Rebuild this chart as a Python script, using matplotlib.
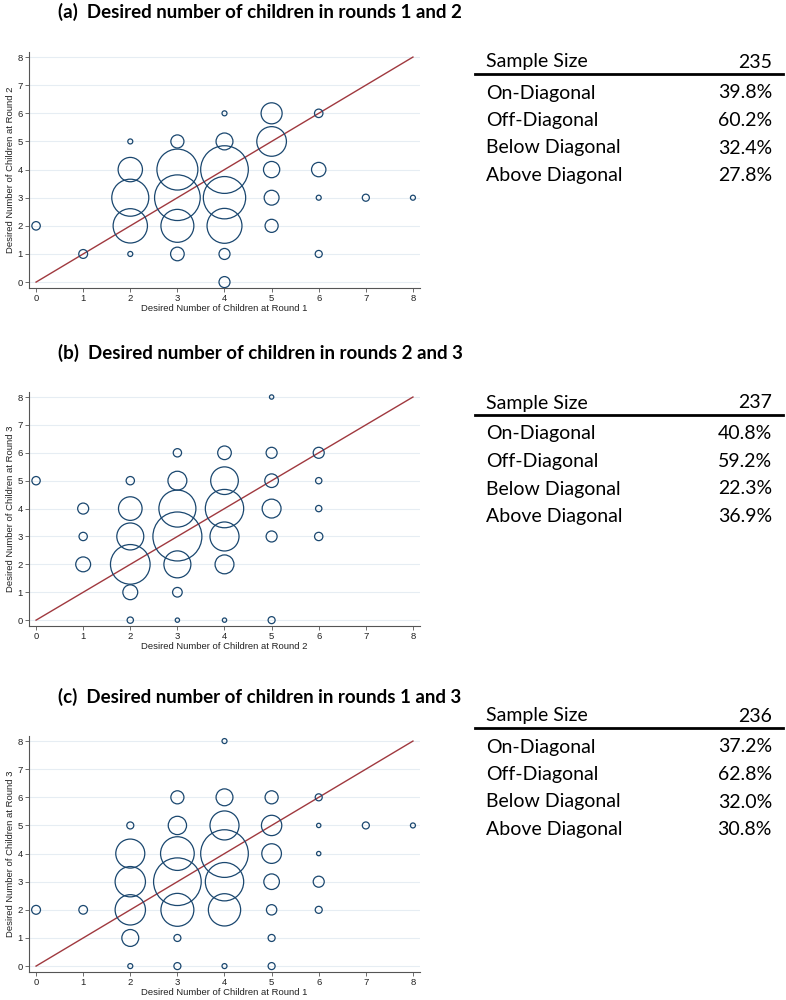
import matplotlib
matplotlib.use("Agg")
import matplotlib.pyplot as plt
from matplotlib.lines import Line2D

# ---------------- data ----------------
# Panel (a): round 1 (x) vs round 2 (y); bubble weights (area-proportional)
a_x = [0, 1, 2, 2, 2, 2, 2, 3, 3, 3, 3, 3, 4, 4, 4, 4, 4, 4, 4, 5, 5, 5, 5, 5, 6, 6, 6, 6, 7, 8]
a_y = [2, 1, 5, 4, 3, 2, 1, 5, 4, 3, 2, 1, 6, 5, 4, 3, 2, 1, 0, 6, 5, 4, 3, 2, 6, 4, 3, 1, 3, 3]
a_w = [1.0, 1.1, 0.35, 8.3, 19.2, 16.5, 0.35, 2.4, 23.5, 29.2, 15.2, 2.6, 0.35, 4.0, 31.8, 25.1,
       17.1, 1.7, 1.7, 6.2, 12.3, 3.7, 3.1, 2.4, 1.0, 2.9, 0.35, 0.7, 0.7, 0.35]

# Panel (b): round 2 (x) vs round 3 (y)
b_x = [0, 1, 1, 1, 2, 2, 2, 2, 2, 2, 3, 3, 3, 3, 3, 3, 3, 4, 4, 4, 4, 4, 4, 5, 5, 5, 5, 5, 5, 6, 6, 6, 6]
b_y = [5, 4, 3, 2, 5, 4, 3, 2, 1, 0, 6, 5, 4, 3, 2, 1, 0, 6, 5, 4, 3, 2, 0, 8, 6, 5, 4, 3, 0, 6, 5, 4, 3]
b_w = [0.97, 1.7, 0.97, 3.1, 0.97, 7.8, 10.2, 22.0, 3.1, 0.56, 0.97, 5.0, 19.2, 33.6, 10.2, 1.3, 0.26,
       2.6, 10.7, 20.6, 11.8, 5.0, 0.26, 0.26, 1.7, 2.6, 5.0, 1.7, 0.69, 1.7, 0.56, 0.56, 0.97]

# Panel (c): round 1 (x) vs round 3 (y)
c_x = [0, 1, 2, 2, 2, 2, 2, 2, 3, 3, 3, 3, 3, 3, 3, 4, 4, 4, 4, 4, 4, 4, 5, 5, 5, 5, 5, 5, 5,
       6, 6, 6, 6, 6, 7, 8]
c_y = [2, 2, 5, 4, 3, 2, 1, 0, 6, 5, 4, 3, 2, 1, 0, 8, 6, 5, 4, 3, 2, 0, 6, 5, 4, 3, 2, 1, 0,
       6, 5, 4, 3, 2, 5, 5]
c_w = [1.1, 1.05, 0.69, 11.8, 12.9, 12.9, 4.0, 0.35, 2.4, 4.7, 15.9, 31.8, 15.2, 0.69, 0.69,
       0.35, 4.0, 11.8, 31.8, 20.6, 14.6, 0.35, 2.4, 5.8, 5.4, 3.4, 1.5, 0.69, 0.69,
       0.69, 0.26, 0.26, 1.7, 0.69, 0.69, 0.35]

titles = ["(a)  Desired number of children in rounds 1 and 2",
          "(b)  Desired number of children in rounds 2 and 3",
          "(c)  Desired number of children in rounds 1 and 3"]
xlabels = ["Desired Number of Children at Round 1",
           "Desired Number of Children at Round 2",
           "Desired Number of Children at Round 1"]
ylabels = ["Desired Number of Children at Round 2",
           "Desired Number of Children at Round 3",
           "Desired Number of Children at Round 3"]

table_rows = ["On-Diagonal", "Off-Diagonal", "Below Diagonal", "Above Diagonal"]
sample_sizes = ["235", "237", "236"]
table_vals = [["39.8%", "60.2%", "32.4%", "27.8%"],
              ["40.8%", "59.2%", "22.3%", "36.9%"],
              ["37.2%", "62.8%", "32.0%", "30.8%"]]
ticks = [0, 1, 2, 3, 4, 5, 6, 7, 8]

# ---------------- style / layout ----------------
W, H = 786, 1000
NAVY = "#1a476f"
MAROON = "#a0393f"
GRID = "#e6edf3"
SIZE_SCALE = 37.0
TICK_FONT = "Liberation Sans"
TEXT_FONT = "Lato"

fig = plt.figure(figsize=(W / 100, H / 100), dpi=100)
fig.patch.set_facecolor("white")

def fx(px):
    return px / W

def fy(py):
    return 1 - py / H

# (axes top px, axes bottom px, title center px, table top px)
panels = [
    dict(top=52, bottom=288, title=12, table=62),
    dict(top=392, bottom=626, title=353, table=403),
    dict(top=736, bottom=972, title=697, table=716),
]
data = [(a_x, a_y, a_w), (b_x, b_y, b_w), (c_x, c_y, c_w)]

AX_L, AX_R = 29, 420
for i, p in enumerate(panels):
    ax = fig.add_axes([fx(AX_L), fy(p["bottom"]), fx(AX_R - AX_L), (p["bottom"] - p["top"]) / H])
    xs, ys, ws = data[i]
    ax.set_xlim(-0.15, 8.15)
    ax.set_ylim(-0.21, 8.18)
    for t in ticks:
        ax.axhline(t, color=GRID, lw=0.8, zorder=0)
    ax.plot([0, 8], [0, 8], color=MAROON, lw=1.0, zorder=2)
    ax.scatter(xs, ys, s=[w * SIZE_SCALE for w in ws], facecolors="none",
               edgecolors=NAVY, linewidths=0.9, zorder=3)
    for side in ["top", "right"]:
        ax.spines[side].set_visible(False)
    for side in ["left", "bottom"]:
        ax.spines[side].set_color("#555555")
        ax.spines[side].set_linewidth(0.8)
    ax.set_xticks(ticks)
    ax.set_yticks(ticks)
    ax.tick_params(direction="out", length=3, width=0.6, color="#555555",
                   labelsize=6.8, pad=1.5, labelcolor="#222222")
    for lab in ax.get_xticklabels() + ax.get_yticklabels():
        lab.set_fontfamily(TICK_FONT)
    ax.set_xlabel(xlabels[i], fontsize=6.8, family=TICK_FONT, labelpad=0.5, color="#222222")
    ax.set_ylabel(ylabels[i], fontsize=6.8, family=TICK_FONT, labelpad=2, color="#222222")

    # title
    fig.text(fx(58), fy(p["title"]), titles[i], fontsize=13.5, fontweight="bold",
             family=TEXT_FONT, ha="left", va="center", color="black")

    # table
    t0 = p["table"]
    fig.text(fx(486), fy(t0), "Sample Size", fontsize=14, family=TEXT_FONT,
             ha="left", va="center")
    fig.text(fx(772), fy(t0), sample_sizes[i], fontsize=14, family=TEXT_FONT,
             ha="right", va="center")
    fig.add_artist(Line2D([fx(475), fx(783)], [fy(t0 + 12), fy(t0 + 12)],
                          color="black", lw=2.0, transform=fig.transFigure))
    for k, (name, val) in enumerate(zip(table_rows, table_vals[i])):
        yy = t0 + 31 + k * 27.5
        fig.text(fx(486), fy(yy), name, fontsize=14, family=TEXT_FONT, ha="left", va="center")
        fig.text(fx(772), fy(yy), val, fontsize=14, family=TEXT_FONT, ha="right", va="center")

fig.savefig("out.png", dpi=100, facecolor="white")
